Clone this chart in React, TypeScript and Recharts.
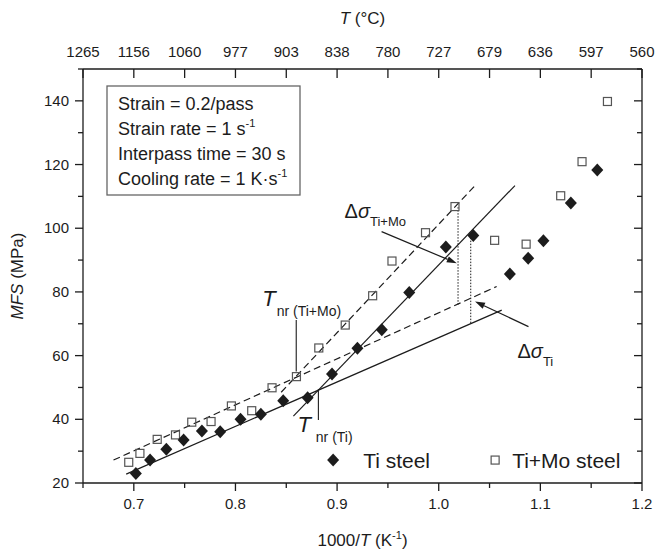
import React from 'react';
import { ScatterChart, Scatter, XAxis, YAxis, ReferenceLine, ReferenceDot } from 'recharts';

// Ti steel (filled diamonds)
const tiX = [0.702, 0.716, 0.732, 0.749, 0.767, 0.785, 0.805, 0.825, 0.847, 0.871, 0.895, 0.92, 0.944, 0.971, 1.007, 1.034, 1.07, 1.088, 1.103, 1.13, 1.156];
const tiY = [23.0, 27.2, 30.6, 33.5, 36.3, 36.1, 40.0, 41.6, 45.8, 46.8, 54.2, 62.3, 68.1, 79.8, 94.1, 97.7, 85.6, 90.6, 96.1, 107.9, 118.3];

// Ti+Mo steel (open squares)
const moX = [0.695, 0.706, 0.723, 0.741, 0.757, 0.776, 0.796, 0.816, 0.836, 0.86, 0.882, 0.908, 0.935, 0.954, 0.987, 1.016, 1.055, 1.086, 1.12, 1.141, 1.166];
const moY = [26.5, 29.3, 33.7, 35.1, 39.1, 39.3, 44.2, 42.7, 49.9, 53.4, 62.4, 69.6, 78.8, 89.7, 98.6, 106.8, 96.2, 95.0, 110.2, 120.9, 139.8];

// axes
const xTicks = [0.65, 0.7, 0.75, 0.8, 0.85, 0.9, 0.95, 1.0, 1.05, 1.1, 1.15, 1.2];
const topLabels = ['1265', '1156', '1060', '977', '903', '838', '780', '727', '679', '636', '597', '560'];
const yTicks = [20, 30, 40, 50, 60, 70, 80, 90, 100, 110, 120, 130, 140, 150];

// fitted lines, [x1, y1, x2, y2]
const tiLow = [0.6925, 22.8, 1.062, 74.3];
const tiHigh = [0.857, 41.0, 1.075, 113.4];
const moLow = [0.68, 27.2, 1.057, 81.7];
const moHigh = [0.845, 48.5, 1.036, 113.5];
const tnrMoLine = [0.8598, 55.0, 0.8598, 71.2];
const tnrTiLine = [0.8816, 49.5, 0.8816, 39.8];
const dMoLine = [1.019, 76.0, 1.019, 106.6];
const dTiLine = [1.0315, 70.2, 1.0315, 97.9];
const dMoArrow = [0.9438, 98.95, 1.0178, 89.0];
const dTiArrow = [1.0883, 69.1, 1.0357, 77.0];

const boxLines = ['Strain = 0.2/pass', 'Strain rate = 1 s', 'Interpass time = 30 s', 'Cooling rate = 1 K\u00b7s'];
const boxSup = ['', '-1', '', '-1'];

const tiData = tiX.map((x, i) => ({ x, y: tiY[i] }));
const moData = moX.map((x, i) => ({ x, y: moY[i] }));

const FONT = '"Liberation Sans", Arial, sans-serif';
const INK = '#1c1c1c';

const isMajorX = (v: number) => Math.abs(v * 10 - Math.round(v * 10)) < 1e-6;

const BottomTick = (props: any) => {
  const { x, y, payload } = props;
  const major = isMajorX(payload.value);
  return (
    <g>
      <line x1={x} y1={y} x2={x} y2={y + (major ? 8 : 5)} stroke={INK} strokeWidth={1.3} />
      {major && (
        <text x={x} y={y + 26} textAnchor="middle" fontSize={15} fill={INK} fontFamily={FONT}>
          {payload.value.toFixed(1)}
        </text>
      )}
    </g>
  );
};

const TopTick = (props: any) => {
  const { x, y, payload } = props;
  const idx = xTicks.indexOf(payload.value);
  return (
    <g>
      <line x1={x} y1={y} x2={x} y2={y + 9} stroke={INK} strokeWidth={1.3} />
      <text x={x} y={y - 12} textAnchor="middle" fontSize={15} fill={INK} fontFamily={FONT}>
        {topLabels[idx]}
      </text>
    </g>
  );
};

const LeftTick = (props: any) => {
  const { x, y, payload } = props;
  const major = payload.value % 20 === 0;
  return (
    <g>
      <line x1={x - (major ? 8 : 5)} y1={y} x2={x} y2={y} stroke={INK} strokeWidth={1.3} />
      {major && (
        <text x={x - 14} y={y + 5} textAnchor="end" fontSize={15} fill={INK} fontFamily={FONT}>
          {payload.value}
        </text>
      )}
    </g>
  );
};

const RightTick = (props: any) => {
  const { x, y, payload } = props;
  const major = payload.value % 20 === 0;
  return <line x1={x - (major ? 8 : 5)} y1={y} x2={x} y2={y} stroke={INK} strokeWidth={1.3} />;
};

const Diamond = (props: any) => {
  const { cx, cy } = props;
  return <polygon points={`${cx},${cy - 6.5} ${cx + 6},${cy} ${cx},${cy + 6.5} ${cx - 6},${cy}`} fill={INK} />;
};

const OpenSquare = (props: any) => {
  const { cx, cy } = props;
  return <rect x={cx - 4} y={cy - 4} width={8} height={8} fill="none" stroke="#555" strokeWidth={1.2} />;
};

const Nothing = () => <g />;

const Arrow = (props: any) => {
  const { x1, y1, x2, y2 } = props;
  const ang = Math.atan2(y2 - y1, x2 - x1);
  const L = 10;
  const W = 3.2;
  const bx = x2 - L * Math.cos(ang);
  const by = y2 - L * Math.sin(ang);
  const px = -Math.sin(ang) * W;
  const py = Math.cos(ang) * W;
  return (
    <g>
      <line x1={x1} y1={y1} x2={bx} y2={by} stroke={INK} strokeWidth={1.2} />
      <polygon points={`${x2},${y2} ${bx + px},${by + py} ${bx - px},${by - py}`} fill={INK} />
    </g>
  );
};

const seg = (a: number[]) => [{ x: a[0], y: a[1] }, { x: a[2], y: a[3] }];

const InfoBox = (props: any) => {
  const { cx, cy } = props;
  return (
    <g fontFamily={FONT} fill={INK}>
      <rect x={cx + 24} y={cy + 17} width={193} height={109} fill="#fff" stroke="#666" strokeWidth={1.3} />
      {boxLines.map((t, i) => (
        <text key={i} x={cx + 35} y={cy + 41 + i * 25} fontSize={18}>
          {t}
          {boxSup[i] && (
            <tspan fontSize={11} dy={-8}>
              {boxSup[i]}
            </tspan>
          )}
        </text>
      ))}
    </g>
  );
};

const LegendMarks = (props: any) => {
  const { cx, cy } = props;
  return (
    <g fontFamily={FONT} fill={INK}>
      <polygon points={`${cx},${cy - 6.5} ${cx + 6},${cy} ${cx},${cy + 6.5} ${cx - 6},${cy}`} fill={INK} />
      <text x={cx + 30} y={cy + 7.5} fontSize={21}>Ti steel</text>
      <rect x={cx + 158} y={cy - 4} width={8} height={8} fill="none" stroke="#555" strokeWidth={1.2} />
      <text x={cx + 179} y={cy + 7.5} fontSize={21}>Ti+Mo steel</text>
    </g>
  );
};

const TnrMoLabel = (props: any) => {
  const { cx, cy } = props;
  return (
    <text x={cx - 34} y={cy - 14} fontFamily={FONT} fill={INK}>
      <tspan fontSize={22} fontStyle="italic">T</tspan>
      <tspan fontSize={14} dy={10} dx={1}>nr (Ti+Mo)</tspan>
    </text>
  );
};

const TnrTiLabel = (props: any) => {
  const { cx, cy } = props;
  return (
    <text x={cx - 21} y={cy + 12} fontFamily={FONT} fill={INK}>
      <tspan fontSize={22} fontStyle="italic">T</tspan>
      <tspan fontSize={14} dy={10} dx={5}>nr (Ti)</tspan>
    </text>
  );
};

const DeltaMoLabel = (props: any) => {
  const { cx, cy } = props;
  return (
    <text x={cx - 37} y={cy - 14} fontFamily={FONT} fill={INK}>
      <tspan fontSize={20}>{'\u0394'}</tspan>
      <tspan fontSize={20} fontStyle="italic">{'\u03c3'}</tspan>
      <tspan fontSize={13} dy={8}>Ti+Mo</tspan>
    </text>
  );
};

const DeltaTiLabel = (props: any) => {
  const { cx, cy } = props;
  return (
    <text x={cx - 11} y={cy + 31} fontFamily={FONT} fill={INK}>
      <tspan fontSize={20}>{'\u0394'}</tspan>
      <tspan fontSize={20} fontStyle="italic">{'\u03c3'}</tspan>
      <tspan fontSize={13} dy={8}>Ti</tspan>
    </text>
  );
};

const TopTitle = (props: any) => {
  const { cx, cy } = props;
  return (
    <text x={cx} y={cy - 45} textAnchor="middle" fontFamily={FONT} fontSize={17} fill={INK}>
      <tspan fontStyle="italic">T</tspan> ({'\u00b0'}C)
    </text>
  );
};

const BottomTitle = (props: any) => {
  const { cx, cy } = props;
  return (
    <text x={cx} y={cy + 63} textAnchor="middle" fontFamily={FONT} fontSize={17} fill={INK}>
      1000/<tspan fontStyle="italic">T</tspan> (K<tspan fontSize={11} dy={-7}>-1</tspan>
      <tspan dy={7}>)</tspan>
    </text>
  );
};

const LeftTitle = (props: any) => {
  const { cx, cy } = props;
  const x = cx - 60;
  return (
    <text x={x} y={cy} transform={`rotate(-90 ${x} ${cy})`} textAnchor="middle" fontFamily={FONT} fontSize={17} fill={INK}>
      <tspan fontStyle="italic">MFS</tspan> (MPa)
    </text>
  );
};

const axisLine = { stroke: INK, strokeWidth: 1.3 };

export default function App() {
  const ids = { xAxisId: 'bottom', yAxisId: 'left' };
  return (
    <div style={{ position: 'absolute', left: 0, top: 0, width: 668, height: 550, background: '#fff' }}>
      <ScatterChart width={668} height={550} margin={{ top: 0, right: 0, bottom: 0, left: 0 }}>
        <XAxis
          xAxisId="bottom"
          type="number"
          dataKey="x"
          domain={[0.65, 1.2]}
          ticks={xTicks}
          interval={0}
          tick={BottomTick}
          tickLine={false}
          tickSize={0}
          tickMargin={0}
          axisLine={axisLine}
          height={67}
          allowDataOverflow
        />
        <XAxis
          xAxisId="top"
          orientation="top"
          type="number"
          dataKey="x"
          domain={[0.65, 1.2]}
          ticks={xTicks}
          interval={0}
          tick={TopTick}
          tickLine={false}
          tickSize={0}
          tickMargin={0}
          axisLine={axisLine}
          height={69}
          allowDataOverflow
        />
        <YAxis
          yAxisId="left"
          type="number"
          dataKey="y"
          domain={[20, 150]}
          ticks={yTicks}
          interval={0}
          tick={LeftTick}
          tickLine={false}
          tickSize={0}
          tickMargin={0}
          axisLine={axisLine}
          width={83}
          allowDataOverflow
        />
        <YAxis
          yAxisId="right"
          orientation="right"
          type="number"
          dataKey="y"
          domain={[20, 150]}
          ticks={yTicks}
          interval={0}
          tick={RightTick}
          tickLine={false}
          tickSize={0}
          tickMargin={0}
          axisLine={axisLine}
          width={26}
          allowDataOverflow
        />

        {/* fitted lines */}
        <ReferenceLine {...ids} segment={seg(tiLow)} stroke={INK} strokeWidth={1.2} ifOverflow="visible" />
        <ReferenceLine {...ids} segment={seg(tiHigh)} stroke={INK} strokeWidth={1.2} ifOverflow="visible" />
        <ReferenceLine {...ids} segment={seg(moLow)} stroke={INK} strokeWidth={1.2} strokeDasharray="7 4" ifOverflow="visible" />
        <ReferenceLine {...ids} segment={seg(moHigh)} stroke={INK} strokeWidth={1.2} strokeDasharray="7 4" ifOverflow="visible" />

        {/* Tnr markers and stress differences */}
        <ReferenceLine {...ids} segment={seg(tnrMoLine)} stroke={INK} strokeWidth={1.1} ifOverflow="visible" />
        <ReferenceLine {...ids} segment={seg(tnrTiLine)} stroke={INK} strokeWidth={1.1} ifOverflow="visible" />
        <ReferenceLine {...ids} segment={seg(dMoLine)} stroke={INK} strokeWidth={1} strokeDasharray="1.5 1.5" ifOverflow="visible" />
        <ReferenceLine {...ids} segment={seg(dTiLine)} stroke={INK} strokeWidth={1} strokeDasharray="1.5 1.5" ifOverflow="visible" />
        <ReferenceLine {...ids} segment={seg(dMoArrow)} shape={Arrow} ifOverflow="visible" />
        <ReferenceLine {...ids} segment={seg(dTiArrow)} shape={Arrow} ifOverflow="visible" />

        <Scatter {...ids} data={moData} shape={OpenSquare} isAnimationActive={false} />
        <Scatter {...ids} data={tiData} shape={Diamond} isAnimationActive={false} />
        <Scatter xAxisId="top" yAxisId="right" data={tiData} shape={Nothing} isAnimationActive={false} />

        {/* texts anchored on the data scales */}
        <ReferenceDot {...ids} x={tnrMoLine[0]} y={tnrMoLine[3]} shape={TnrMoLabel} ifOverflow="visible" />
        <ReferenceDot {...ids} x={tnrTiLine[0]} y={tnrTiLine[3]} shape={TnrTiLabel} ifOverflow="visible" />
        <ReferenceDot {...ids} x={dMoArrow[0]} y={dMoArrow[1]} shape={DeltaMoLabel} ifOverflow="visible" />
        <ReferenceDot {...ids} x={dTiArrow[0]} y={dTiArrow[1]} shape={DeltaTiLabel} ifOverflow="visible" />
        <ReferenceDot {...ids} x={0.65} y={150} shape={InfoBox} ifOverflow="visible" />
        <ReferenceDot {...ids} x={0.8961} y={27.2} shape={LegendMarks} ifOverflow="visible" />
        <ReferenceDot {...ids} x={0.925} y={150} shape={TopTitle} ifOverflow="visible" />
        <ReferenceDot {...ids} x={0.925} y={20} shape={BottomTitle} ifOverflow="visible" />
        <ReferenceDot {...ids} x={0.65} y={85} shape={LeftTitle} ifOverflow="visible" />
      </ScatterChart>
    </div>
  );
}
